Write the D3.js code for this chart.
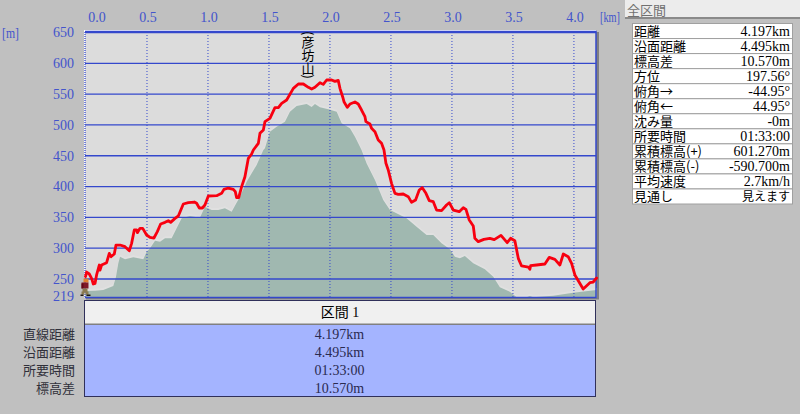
<!DOCTYPE html>
<html><head><meta charset="utf-8">
<script src="https://cdn.jsdelivr.net/npm/d3@7"></script>
<style>
html,body{margin:0;padding:0;background:#c0c0c0;overflow:hidden}
svg{display:block}
text{font-family:"Liberation Serif","Noto Sans CJK JP",serif;font-size:14px}
.jp{font-family:"Noto Sans CJK JP",sans-serif;font-size:13px}
</style></head><body>
<svg id="c" width="800" height="414"></svg>
<script>
const routeKm=[0,.009,.031,.05,.064,.078,.091,.113,.119,.132,.173,.195,.209,.236,.25,.283,.324,.359,.378,.4,.419,.425,.447,.469,.501,.529,.561,.589,.616,.652,.679,.698,.734,.761,.802,.843,.892,.911,.933,.958,.979,1.007,1.075,1.116,1.135,1.171,1.212,1.228,1.239,1.256,1.28,1.307,1.335,1.362,1.376,1.417,1.43,1.458,1.471,1.512,1.553,1.581,1.608,1.649,1.704,1.745,1.786,1.827,1.854,1.881,1.922,1.949,1.977,2.018,2.045,2.072,2.086,2.108,2.119,2.146,2.168,2.209,2.236,2.263,2.291,2.299,2.332,2.345,2.373,2.4,2.427,2.447,2.463,2.482,2.509,2.537,2.564,2.605,2.646,2.673,2.706,2.736,2.761,2.791,2.818,2.851,2.878,2.919,2.96,2.982,3.015,3.064,3.097,3.119,3.146,3.179,3.192,3.22,3.266,3.315,3.351,3.406,3.457,3.485,3.52,3.548,3.575,3.63,3.643,3.649,3.698,3.766,3.802,3.848,3.889,3.917,3.957,3.985,4.012,4.08,4.135,4.162,4.19];
const routeElev=[253,260.5,257.3,250.3,241.1,242.1,255.7,271.9,263.8,271.9,275.7,290.8,285.4,289.7,304.3,304.3,301.6,295.1,307,328.7,328.7,324.4,331.4,331.4,320.6,316.8,315.7,326,338.4,341.1,343.8,341.1,347.6,351.4,370.9,373,374.1,372,364.4,364.4,369.3,383.9,384.4,388.2,394.7,396.8,394.7,390.9,381.2,381.2,399,415.2,445,452,458.5,469.3,485.5,490.9,504.5,509.9,527.2,527.2,534.2,539.6,558.6,565.6,565.6,560.2,557.5,560.2,567.8,565,572.1,572.1,569.9,571.5,558.6,545,536.9,527.7,533.1,536.4,533.1,523.4,512.6,504.5,500.7,493.7,488.2,474.7,469.3,458.5,436.9,426,404.4,388.2,386.6,387.1,382.8,373.6,377.4,393.6,397.4,388.2,376.3,374.7,361.1,360.1,369.3,373,361.1,358.4,364.9,362.2,344.9,335.2,315.2,309.8,313.5,315.2,313,320,308.1,315.2,311.4,282.7,270.3,268.6,264.9,270.8,271.9,273.5,284.3,281.1,271.9,289.7,285.4,274.6,255.7,232.9,243.2,244.3,250.8];
const groundKm=[0,.078,.146,.228,.25,.269,.283,.324,.392,.474,.501,.529,.57,.611,.652,.706,.747,.788,.857,.938,.979,1.034,1.089,1.143,1.198,1.266,1.321,1.403,1.458,1.471,1.512,1.567,1.635,1.676,1.731,1.813,1.854,1.881,1.922,1.99,2.059,2.1,2.168,2.209,2.263,2.304,2.373,2.441,2.496,2.632,2.714,2.796,2.851,2.919,2.988,3.028,3.069,3.11,3.179,3.274,3.343,3.397,3.479,3.534,3.616,3.643,3.671,3.834,3.998,4.19];
const groundElev=[229.7,230.2,231.3,237.8,253,274.6,285.4,281.1,284.3,281.1,293.5,298.9,311.4,309.8,315.2,315.2,331.4,347.6,351.4,348.7,366.5,361.1,361.1,363.8,358.4,382.8,407.1,434.2,458.5,461.2,488.2,496.4,504.5,520.7,529.9,533.1,528.4,533.1,527.7,524.5,520.7,501.8,493.7,480.1,458.5,436.9,409.8,377.4,361.1,347.6,334.1,320.6,320.6,307,297.3,285.4,282.7,286.5,274.6,264.9,253,235.6,228.6,219.4,219.4,221.6,219.4,222.1,227,231.3];
const kmTicks=[0,.5,1,1.5,2,2.5,3,3.5,4];
const elevTicks=[650,600,550,500,450,400,350,300,250,219];
const peakLabel="(彦坊山)";
const summaryTitle="全区間";
const summaryNames=["距離","沿面距離","標高差","方位","俯角→","俯角←","沈み量","所要時間","累積標高(+)","累積標高(-)","平均速度","見通し"];
const summaryValues=["4.197km","4.495km","10.570m","197.56°","-44.95°","44.95°","-0m","01:33:00","601.270m","-590.700m","2.7km/h","見えます"];
const sectionTitle="区間 1";
const sectionNames=["直線距離","沿面距離","所要時間","標高差"];
const sectionValues=["4.197km","4.495km","01:33:00","10.570m"];

const svg=d3.select("#c");
const L=85,R=596,T=32,B=297.5;
const x=d3.scaleLinear().domain([0,4.19]).range([85.5,596.6]);
const y=d3.scaleLinear().domain([219,650]).range([297.6,32]);
const blue="#3448cc",lab="#4354cc";

svg.append("rect").attr("x",L+1).attr("y",T).attr("width",R-L+2).attr("height",B-T+2).attr("fill","#808080");
svg.append("rect").attr("x",L-1).attr("y",T-2).attr("width",R-L+1).attr("height",B-T+2).attr("fill","#fff");
svg.append("rect").attr("x",L).attr("y",T-1).attr("width",R-L).attr("height",B-T+1).attr("fill","#dcdcdc");

const route=routeKm.map((k,i)=>[k,routeElev[i]]);
const ground=groundKm.map((k,i)=>[k,groundElev[i]]);
svg.append("path").datum(ground).attr("fill","#e0e0e0")
  .attr("d",d3.area().x(d=>x(d[0])).y0(y(219)).y1(d=>y(d[1])-2));
svg.append("path").datum(ground).attr("fill","#a0b8b0")
  .attr("d",d3.area().x(d=>x(d[0])).y0(y(219)).y1(d=>y(d[1])));

// gridlines through d3 axes
const gy=svg.append("g").attr("transform",`translate(${L},0)`)
  .call(d3.axisRight(y).tickValues(elevTicks.slice(0,-1)).tickSize(R-L).tickFormat(""));
gy.select(".domain").remove();
gy.selectAll("line").attr("stroke",blue).attr("stroke-width",1.3);
const gx=svg.append("g").attr("transform",`translate(0,${T})`)
  .call(d3.axisBottom(x).tickValues(kmTicks.slice(1)).tickSize(B-T).tickFormat(""));
gx.select(".domain").remove();
gx.selectAll("line").attr("stroke",blue).attr("stroke-width",1).attr("stroke-dasharray","1 2");
svg.append("line").attr("x1",L).attr("x2",L).attr("y1",T).attr("y2",B).attr("stroke",blue).attr("stroke-width",1.3).attr("stroke-dasharray","1 1");
svg.append("path").attr("fill","none").attr("stroke",blue).attr("stroke-width",1.5)
  .attr("d",`M${L},${B}H${R}V${T-.5}H${L}`);

// labels
const ax=svg.append("g").attr("transform","translate(0,17)")
  .call(d3.axisTop(x).tickValues(kmTicks).tickSize(0).tickFormat(d3.format(".1f")));
ax.select(".domain").remove();
ax.selectAll("text").attr("fill",lab).attr("y",0).attr("dy","0.35em").attr("dx",d=>d===0?11:1)
  .style("font-size","14px").style("font-family",'"Liberation Serif"');
const ay=svg.append("g").attr("transform","translate(74,0)")
  .call(d3.axisLeft(y).tickValues(elevTicks).tickSize(0).tickFormat(d3.format("d")));
ay.select(".domain").remove();
ay.selectAll("text").attr("fill",lab).attr("x",0).attr("dy",d=>d===219?"0.2em":"0.35em")
  .style("font-size","14px").style("font-family",'"Liberation Serif"');
svg.append("text").attr("x",2).attr("y",38).attr("fill",lab).attr("textLength",17).attr("lengthAdjust","spacingAndGlyphs").text("[m]");
svg.append("text").attr("x",600).attr("y",22).attr("fill",lab).attr("textLength",20).attr("lengthAdjust","spacingAndGlyphs").text("[km]");

svg.append("path").datum(route).attr("fill","none").attr("stroke","#f80010").attr("stroke-width",2.8)
  .attr("stroke-linejoin","round").attr("stroke-linecap","round")
  .attr("d",d3.line().x(d=>x(d[0])).y(d=>y(d[1])));

svg.append("text").attr("class","jp").attr("fill","#000")
  .attr("x",x(1.825)).attr("y",31)
  .style("writing-mode","vertical-rl").style("text-orientation","mixed").attr("text-anchor","start")
  .style("font-size","13px").text(peakLabel);

// walker marker
const w=svg.append("g").attr("transform",`translate(${x(0)},${y(250)})`);
[["#e08030",-2,0,5,4],["#801828",-4,4,7,6],["#600818",-4,5,2,5],["#8a7a50",-3,10,5,4],["#8a7a50",-4,13,3,3],["#8a7a50",0,13,3,3],["#201810",-5,16,3,1.5],["#201810",1,16,4,1.5]]
.forEach(p=>w.append("rect").attr("fill",p[0]).attr("x",p[1]).attr("y",p[2]).attr("width",p[3]).attr("height",p[4]));

// section panel
svg.append("rect").attr("x",84.5).attr("y",300.5).attr("width",511).attr("height",96).attr("fill","#a4b4ff").attr("stroke","#30305a");
svg.append("rect").attr("x",85).attr("y",301).attr("width",510).attr("height",23).attr("fill","#f0f0f0");
svg.append("rect").attr("x",85).attr("y",323.5).attr("width",510).attr("height",1.5).attr("fill","#808080");
svg.append("text").attr("x",340).attr("y",312).attr("dy","0.35em").attr("text-anchor","middle").attr("fill","#000").text(sectionTitle);
const rowY=d3.scalePoint().domain(d3.range(4)).range([334,388]);
sectionNames.forEach((n,i)=>{
  svg.append("text").attr("class","jp").attr("x",75).attr("y",rowY(i)).attr("dy","0.35em").attr("text-anchor","end").attr("fill","#30303a").text(n);
  svg.append("text").attr("x",339.5).attr("y",rowY(i)).attr("dy","0.35em").attr("text-anchor","middle").attr("fill","#2a2a50").text(sectionValues[i]);
});

// summary panel
svg.append("rect").attr("x",625).attr("y",0).attr("width",175).attr("height",18).attr("fill","#ececec");
svg.append("rect").attr("x",625).attr("y",17).attr("width",175).attr("height",2).attr("fill","#8a8a8a");
svg.append("text").attr("class","jp").attr("x",627).attr("y",10).attr("dy","0.35em").attr("fill","#707070").text(summaryTitle);
const sy=d3.scaleBand().domain(d3.range(summaryNames.length)).range([23.5,204]);
summaryNames.forEach((n,i)=>{
  const cy=sy(i)+sy.bandwidth()/2;
  svg.append("rect").attr("x",632.5).attr("y",sy(i)).attr("width",160).attr("height",sy.bandwidth()).attr("fill","#fff").attr("stroke","#a0a0a0");
  svg.append("text").attr("class","jp").attr("x",634).attr("y",cy).attr("dy","0.35em").attr("fill","#000").text(n);
  const v=svg.append("text").attr("x",790).attr("y",cy).attr("dy","0.35em").attr("text-anchor","end").attr("fill","#000").text(summaryValues[i]);
  if(/[^\x00-\xff]/.test(summaryValues[i])) v.attr("class","jp").style("font-size","12px");
});
</script></body></html>
